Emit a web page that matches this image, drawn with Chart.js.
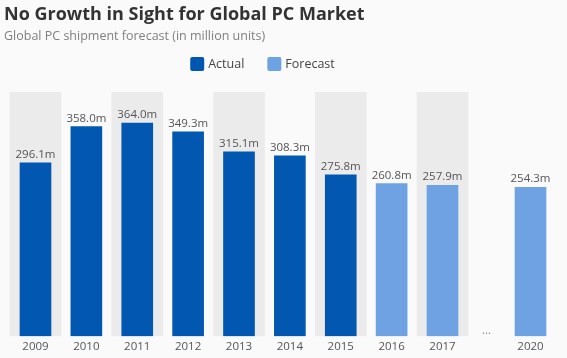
<!DOCTYPE html>
<html lang="en">
<head>
<meta charset="UTF-8">
<title>No Growth in Sight for Global PC Market</title>
<script src="https://cdn.jsdelivr.net/npm/chart.js"></script>
<style>
  body { margin: 0; background: #fafafa; }
</style>
</head>
<body>
<canvas id="pc" width="567" height="358"></canvas>
<script>
// data
const years = ['2009', '2010', '2011', '2012', '2013', '2014', '2015', '2016', '2017', '2020'];
// x slot of each year; 2020 sits after a shortened "..." gap
const slots = [0, 1, 2, 3, 4, 5, 6, 7, 8, 9.73];
const actual = [296.1, 358.0, 364.0, 349.3, 315.1, 308.3, 275.8, null, null, null];
const forecast = [null, null, null, null, null, null, null, 260.8, 257.9, 254.3];

const DARK = '#0258b0';
const LIGHT = '#6ea2e2';
const BAND = '#ebebeb';
const Y_MAX = 417;
const FONT = "'Open Sans', 'Noto Sans', sans-serif";

const pts = arr => arr.map((v, i) => ({ x: slots[i], y: v })).filter(p => p.y !== null);
const bands = slots.filter((s, i) => i % 2 === 0).map(s => ({ x: s, y: Y_MAX }));

// value labels, the "..." gap marker and the legend
const extras = {
  id: 'extras',
  afterDatasetsDraw(chart) {
    const ctx = chart.ctx;
    ctx.save();
    ctx.font = '11.5px ' + FONT;
    ctx.fillStyle = '#555';
    ctx.textAlign = 'center';
    ctx.textBaseline = 'alphabetic';
    [0, 1].forEach(di => {
      const ds = chart.data.datasets[di];
      chart.getDatasetMeta(di).data.forEach((bar, i) => {
        ctx.fillText(ds.data[i].y.toFixed(1) + 'm', bar.x, bar.y - 5);
      });
    });
    const xs = chart.scales.x;
    const gx = (xs.getPixelForValue(slots[8]) + xs.getPixelForValue(slots[9])) / 2;
    ctx.fillStyle = '#888';
    ctx.fillText('...', gx, chart.chartArea.bottom - 2);

    // legend
    ctx.font = '12.5px ' + FONT;
    ctx.textAlign = 'left';
    ctx.textBaseline = 'middle';
    const items = [{ text: 'Actual', color: DARK }, { text: 'Forecast', color: LIGHT }];
    const box = 14, gap = 4, spacing = 23;
    let total = 0;
    items.forEach((it, i) => { total += box + gap + ctx.measureText(it.text).width + (i ? 0 : spacing); });
    let x = 262.5 - total / 2;
    const y = 64;
    items.forEach(it => {
      ctx.fillStyle = it.color;
      ctx.beginPath();
      ctx.roundRect(x, y - box / 2, box, box, 2);
      ctx.fill();
      ctx.fillStyle = '#444';
      ctx.fillText(it.text, x + box + gap, y + 0.5);
      x += box + gap + ctx.measureText(it.text).width + spacing;
    });
    ctx.restore();
  }
};

new Chart(document.getElementById('pc'), {
  type: 'bar',
  data: {
    datasets: [
      { label: 'Actual', data: pts(actual), backgroundColor: DARK, barThickness: 31, grouped: false, order: 1 },
      { label: 'Forecast', data: pts(forecast), backgroundColor: LIGHT, barThickness: 31, grouped: false, order: 1 },
      { label: 'band', data: bands, backgroundColor: BAND, barThickness: 51, grouped: false, order: 5 }
    ]
  },
  options: {
    responsive: false,
    animation: false,
    events: [],
    layout: { padding: { left: 4, right: 11, top: 0, bottom: 0 } },
    plugins: {
      legend: { display: false },
      tooltip: { enabled: false },
      title: {
        display: true,
        text: 'No Growth in Sight for Global PC Market',
        align: 'start',
        color: '#333',
        font: { family: FONT, size: 18, weight: 'bold' },
        padding: { top: 4, bottom: 3 }
      },
      subtitle: {
        display: true,
        text: 'Global PC shipment forecast (in million units)',
        align: 'start',
        color: '#808080',
        font: { family: FONT, size: 12.5 },
        padding: { top: 0, bottom: 48.5 }
      }
    },
    scales: {
      x: {
        type: 'linear',
        offset: false,
        min: -0.619,
        max: 10.231,
        grid: { display: false, drawTicks: false },
        border: { display: false },
        afterBuildTicks: scale => { scale.ticks = slots.map(v => ({ value: v })); },
        ticks: {
          autoSkip: false,
          maxRotation: 0,
          padding: 4,
          color: '#555',
          font: { family: FONT, size: 11.5 },
          callback: value => years[slots.indexOf(value)]
        }
      },
      y: { display: false, min: 0, max: Y_MAX }
    }
  },
  plugins: [extras]
});
</script>
</body>
</html>
